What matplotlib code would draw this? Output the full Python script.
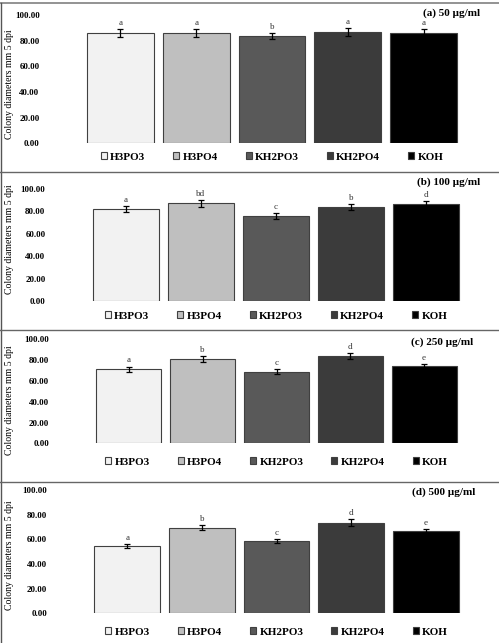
import matplotlib
matplotlib.use("Agg")
import matplotlib.pyplot as plt
import matplotlib.transforms as mtransforms
from matplotlib.lines import Line2D
from matplotlib.patches import Patch

plt.rcParams['font.family'] = ['Liberation Serif', 'DejaVu Serif']

categories = ["H3PO3", "H3PO4", "KH2PO3", "KH2PO4", "KOH"]
panel_titles = ["(a) 50 µg/ml", "(b) 100 µg/ml", "(c) 250 µg/ml", "(d) 500 µg/ml"]

values_50 = [85.7, 85.7, 83.6, 87.0, 86.2]
errors_50 = [3.0, 3.0, 2.6, 3.0, 2.6]
letters_50 = ["a", "a", "b", "a", "a"]

values_100 = [82.1, 87.2, 75.9, 83.9, 86.6]
errors_100 = [2.7, 3.0, 2.5, 2.8, 2.8]
letters_100 = ["a", "bd", "c", "b", "d"]

values_250 = [71.2, 81.1, 68.9, 84.3, 74.0]
errors_250 = [2.6, 2.8, 2.6, 2.8, 2.0]
letters_250 = ["a", "b", "c", "d", "e"]

values_500 = [54.6, 69.5, 58.6, 73.5, 66.5]
errors_500 = [1.8, 2.3, 1.9, 2.7, 1.8]
letters_500 = ["a", "b", "c", "d", "e"]

yticks = [0, 20, 40, 60, 80, 100]
ylabel = "Colony diameters mm 5 dpi"

colors = ["#f2f2f2", "#bfbfbf", "#595959", "#3b3b3b", "#000000"]
edge = "#404040"

W, H = 499, 643
fig = plt.figure(figsize=(W / 100, H / 100), dpi=100)

# layout in pixels: (left, right, y_top(100), y_bottom(0)), label center y, legend y, title (x_right, y)
layouts = [
    (82.6, 461.4, 15.0, 143.3, 84, 157, (480, 13)),
    (88.5, 463.5, 189.0, 301.0, 239, 316, (480, 182)),
    (92.0, 461.0, 339.3, 443.3, 400, 462, (473, 342)),
    (90.0, 463.0, 490.0, 613.3, 555, 632, (475, 492)),
]
datasets = [
    (values_50, errors_50, letters_50),
    (values_100, errors_100, letters_100),
    (values_250, errors_250, letters_250),
    (values_500, errors_500, letters_500),
]

for i, ((l, r, yt, yb, lab_y, leg_y, (tx, ty)), (vals, errs, lets)) in enumerate(zip(layouts, datasets)):
    ax = fig.add_axes([l / W, 1 - yb / H, (r - l) / W, (yb - yt) / H])
    x = list(range(len(categories)))
    ax.bar(x, vals, width=0.88, color=colors, edgecolor=edge, linewidth=0.8)
    ax.errorbar(x, vals, yerr=errs, fmt='none', ecolor='black', elinewidth=0.9,
                capsize=2.2, capthick=0.9)
    for xi, v, e, t in zip(x, vals, errs, lets):
        ax.annotate(t, (xi, v + e), xytext=(0, 1.5), textcoords='offset points',
                    ha='center', va='bottom', fontsize=6.5, color='#333333')
    ax.set_xlim(-0.5, len(categories) - 0.5)
    ax.set_ylim(0, 100)
    ax.set_yticks(yticks)
    ax.set_yticklabels([f"{t:.2f}" for t in yticks], fontsize=6.5, fontweight='bold')
    ax.tick_params(axis='y', length=0, pad=31)
    ax.set_xticks([])
    for s in ax.spines.values():
        s.set_visible(False)
    ax.set_ylabel(ylabel, fontsize=7)
    trans = mtransforms.blended_transform_factory(fig.transFigure, fig.transFigure)
    ax.yaxis.set_label_coords(14 / W, 1 - lab_y / H, transform=trans)
    ax.text(tx / W, 1 - ty / H, panel_titles[i], transform=fig.transFigure,
            ha='right', va='center', fontsize=8, fontweight='bold')
    handles = [Patch(facecolor=c, edgecolor=edge, linewidth=0.8) for c in colors]
    ax.legend(handles, categories, loc='center', ncol=5, frameon=False,
              bbox_to_anchor=(((l + r) / 2) / W, 1 - leg_y / H),
              bbox_transform=fig.transFigure,
              prop={'size': 8, 'weight': 'bold'},
              handlelength=0.55, handleheight=0.55, handletextpad=0.3,
              columnspacing=2.5, borderaxespad=0)

# frame lines
gray = "#808080"
fig.add_artist(Line2D([0, 1], [1 - 3 / H, 1 - 3 / H], color=gray, lw=1.2, transform=fig.transFigure))
fig.add_artist(Line2D([1.2 / W, 1.2 / W], [0, 1 - 3 / H], color="#555555", lw=1.0, transform=fig.transFigure))
for yy in [172, 330, 482]:
    fig.add_artist(Line2D([0, 1], [1 - yy / H, 1 - yy / H], color="#666666", lw=1.0,
                          transform=fig.transFigure))

fig.savefig("out.png", dpi=100)
